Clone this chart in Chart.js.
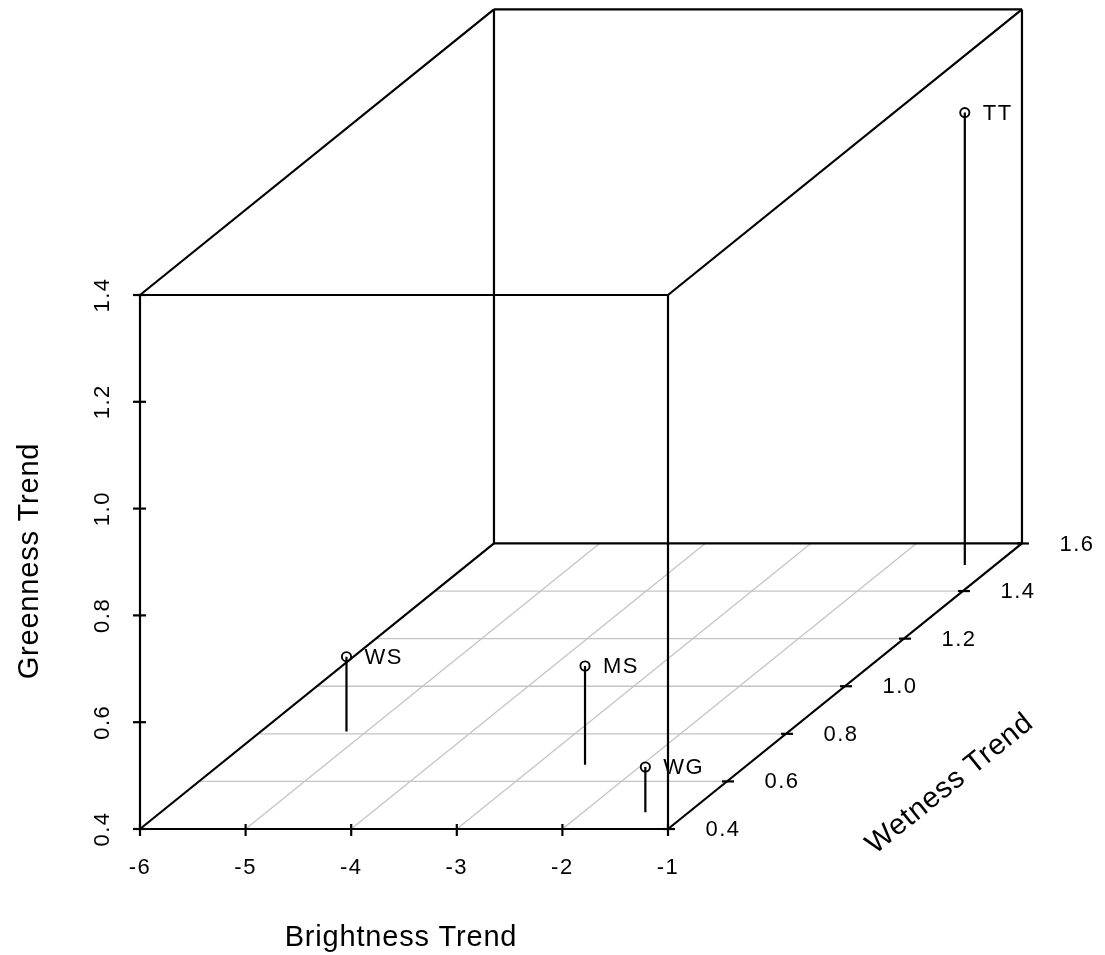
<!DOCTYPE html>
<html>
<head>
<meta charset="utf-8">
<script src="https://cdn.jsdelivr.net/npm/chart.js@4/dist/chart.umd.min.js"></script>
<style>
  html, body { margin: 0; padding: 0; background: #ffffff; }
  #wrap { width: 1105px; height: 955px; }
</style>
</head>
<body>
<div id="wrap"><canvas id="c" width="1105" height="955"></canvas></div>
<script>
// Site trends in three tasseled-cap components
const sites      = ['WS', 'MS', 'WG', 'TT'];
const brightness = [-5.19, -2.54, -1.41, -1.29];
const wetness    = [0.81, 0.67, 0.47, 1.51];
const greenness  = [0.54, 0.585, 0.485, 1.247];

// Axis ranges and tick labels
const brightnessRange = [-6, -1];
const greennessRange  = [0.4, 1.4];
const wetnessRange    = [0.4, 1.6];
const brightnessTicks = [-6, -5, -4, -3, -2, -1];
const greennessTicks  = [0.4, 0.6, 0.8, 1.0, 1.2, 1.4];
const wetnessTicks    = [0.4, 0.6, 0.8, 1.0, 1.2, 1.4, 1.6];

// Oblique projection: the wetness axis recedes up and to the right.
// Depth is expressed in brightness units (horizontal) and greenness units (vertical).
const DEPTH_X = 3.352;
const DEPTH_Y = 0.5347;

function proj(b, w, g) {
  const t = (w - wetnessRange[0]) / (wetnessRange[1] - wetnessRange[0]);
  return { x: b + t * DEPTH_X, y: g + t * DEPTH_Y };
}

function segment(p, q, color, width, order) {
  return {
    type: 'scatter',
    data: [p, q],
    showLine: true,
    borderColor: color,
    borderWidth: width,
    pointRadius: 0,
    pointHoverRadius: 0,
    fill: false,
    clip: false,
    order: order
  };
}

const [bMin, bMax] = brightnessRange;
const [gMin, gMax] = greennessRange;
const [wMin, wMax] = wetnessRange;

const datasets = [];

// Floor grid
wetnessTicks.slice(1, -1).forEach(w => {
  datasets.push(segment(proj(bMin, w, gMin), proj(bMax, w, gMin), '#c4c4c4', 1.3, 4));
});
brightnessTicks.slice(1, -1).forEach(b => {
  datasets.push(segment(proj(b, wMin, gMin), proj(b, wMax, gMin), '#c4c4c4', 1.3, 4));
});

// Box edges
const edges = [
  // front face
  [[bMin, wMin, gMin], [bMax, wMin, gMin]],
  [[bMin, wMin, gMax], [bMax, wMin, gMax]],
  [[bMin, wMin, gMin], [bMin, wMin, gMax]],
  [[bMax, wMin, gMin], [bMax, wMin, gMax]],
  // back face
  [[bMin, wMax, gMin], [bMax, wMax, gMin]],
  [[bMin, wMax, gMax], [bMax, wMax, gMax]],
  [[bMin, wMax, gMin], [bMin, wMax, gMax]],
  [[bMax, wMax, gMin], [bMax, wMax, gMax]],
  // receding edges
  [[bMin, wMin, gMin], [bMin, wMax, gMin]],
  [[bMax, wMin, gMin], [bMax, wMax, gMin]],
  [[bMin, wMin, gMax], [bMin, wMax, gMax]],
  [[bMax, wMin, gMax], [bMax, wMax, gMax]]
];
edges.forEach(([a, c]) => {
  datasets.push(segment(proj(...a), proj(...c), '#000000', 2.2, 3));
});

// Drop lines from each site to the floor
sites.forEach((s, i) => {
  datasets.push(segment(
    proj(brightness[i], wetness[i], greenness[i]),
    proj(brightness[i], wetness[i], gMin),
    '#000000', 2.2, 2));
});

// Site markers
datasets.push({
  type: 'scatter',
  label: 'sites',
  data: sites.map((s, i) => proj(brightness[i], wetness[i], greenness[i])),
  pointRadius: 4.6,
  pointHoverRadius: 4.6,
  pointBorderWidth: 1.9,
  pointBorderColor: '#000000',
  pointBackgroundColor: 'rgba(0,0,0,0)',
  clip: false,
  order: 0
});

const FONT = '"Liberation Sans", Arial, sans-serif';

const fmtInt = v => String(v);
const fmtDec = v => v.toFixed(1);

const axesPlugin = {
  id: 'box3dAxes',
  afterDraw(chart) {
    const ctx = chart.ctx;
    const sx = chart.scales.x, sy = chart.scales.y;
    const pix = p => ({ x: sx.getPixelForValue(p.x), y: sy.getPixelForValue(p.y) });
    const spacing = s => { if ('letterSpacing' in ctx) ctx.letterSpacing = s; };

    ctx.save();
    ctx.strokeStyle = '#000000';
    ctx.fillStyle = '#000000';
    ctx.lineWidth = 2.2;
    spacing('1.5px');
    ctx.font = '22px ' + FONT;
    ctx.textBaseline = 'middle';

    // Brightness axis
    ctx.textAlign = 'center';
    brightnessTicks.forEach(b => {
      const p = pix(proj(b, wMin, gMin));
      ctx.beginPath(); ctx.moveTo(p.x, p.y - 5); ctx.lineTo(p.x, p.y + 7); ctx.stroke();
      ctx.fillText(fmtInt(b), p.x, p.y + 39);
    });

    // Greenness axis
    greennessTicks.forEach(g => {
      const p = pix(proj(bMin, wMin, g));
      ctx.beginPath(); ctx.moveTo(p.x - 7, p.y); ctx.lineTo(p.x + 6, p.y); ctx.stroke();
      ctx.save();
      ctx.translate(p.x - 37, p.y);
      ctx.rotate(-Math.PI / 2);
      ctx.fillText(fmtDec(g), 0, 0);
      ctx.restore();
    });

    // Wetness axis
    wetnessTicks.forEach(w => {
      const p = pix(proj(bMax, w, gMin));
      ctx.beginPath(); ctx.moveTo(p.x - 5, p.y); ctx.lineTo(p.x + 7, p.y); ctx.stroke();
      ctx.fillText(fmtDec(w), p.x + 55, p.y + 1);
    });

    // Site labels
    ctx.textAlign = 'left';
    sites.forEach((s, i) => {
      const p = pix(proj(brightness[i], wetness[i], greenness[i]));
      ctx.fillText(s, p.x + 18, p.y + 1);
    });

    // Axis titles
    spacing('0.8px');
    ctx.font = '29px ' + FONT;
    ctx.textAlign = 'center';
    ctx.fillText('Brightness Trend', 401, 938);

    ctx.save();
    ctx.translate(30, 561);
    ctx.rotate(-Math.PI / 2);
    ctx.fillText('Greenness Trend', 0, 0);
    ctx.restore();

    const a = pix(proj(bMax, wMin, gMin)), c = pix(proj(bMax, wMax, gMin));
    ctx.save();
    ctx.translate(950, 784);
    ctx.rotate(Math.atan2(c.y - a.y, c.x - a.x));
    ctx.fillText('Wetness Trend', 0, 0);
    ctx.restore();

    ctx.restore();
  }
};

// Pixel frame: front-left edge at x=140, floor at y=829
const PX_PER_B = 105.6;
const PX_PER_G = 534;
const frameLeft = 140, frameBottom = 829;
const frameRight = frameLeft + (bMax - bMin + DEPTH_X) * PX_PER_B;
const frameTop = frameBottom - (gMax - gMin + DEPTH_Y) * PX_PER_G;

new Chart(document.getElementById('c'), {
  type: 'scatter',
  data: { datasets },
  options: {
    responsive: false,
    animation: false,
    events: [],
    layout: { padding: { left: frameLeft, right: 1105 - frameRight, top: frameTop, bottom: 955 - frameBottom } },
    plugins: { legend: { display: false }, tooltip: { enabled: false } },
    scales: {
      x: { type: 'linear', display: false, min: bMin, max: bMax + DEPTH_X },
      y: { type: 'linear', display: false, min: gMin, max: gMax + DEPTH_Y }
    }
  },
  plugins: [axesPlugin]
});
</script>
</body>
</html>
